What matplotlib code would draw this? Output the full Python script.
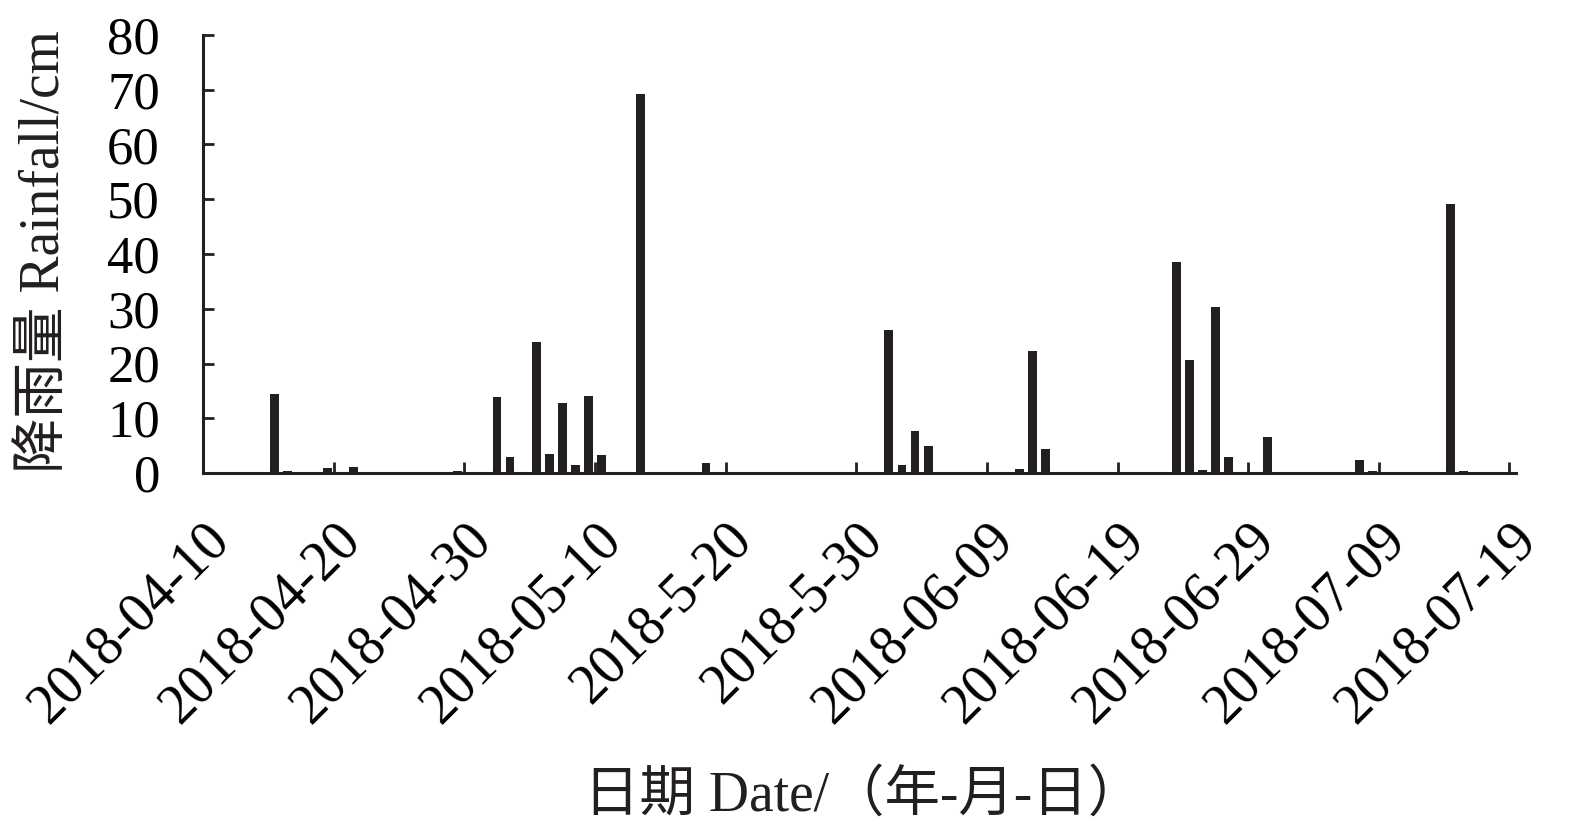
import pandas as pd
import matplotlib
matplotlib.use('Agg')
import matplotlib.pyplot as plt
from matplotlib.transforms import ScaledTranslation

# 降雨日期と降雨量
rain_dates = ['2018-04-15', '2018-04-16', '2018-04-19', '2018-04-20', '2018-04-21',
              '2018-04-29', '2018-05-02', '2018-05-03', '2018-05-05', '2018-05-06',
              '2018-05-07', '2018-05-08', '2018-05-09', '2018-05-10', '2018-05-13',
              '2018-05-18', '2018-06-01', '2018-06-02', '2018-06-03', '2018-06-04',
              '2018-06-11', '2018-06-12', '2018-06-13', '2018-06-23', '2018-06-24',
              '2018-06-25', '2018-06-26', '2018-06-27', '2018-06-30', '2018-07-07',
              '2018-07-08', '2018-07-14', '2018-07-15']
rainfall = [14.4, 0.3, 0.9, 0.2, 1.1,
            0.4, 13.9, 2.9, 24.0, 3.4,
            12.7, 1.5, 14.1, 3.3, 69.2,
            1.8, 26.1, 1.4, 7.7, 4.9,
            0.7, 22.3, 4.3, 38.6, 20.6,
            0.5, 30.3, 2.9, 6.5, 2.4,
            0.3, 49.2, 0.4]

start_date = '2018-04-10'
tick_labels = ['2018-04-10', '2018-04-20', '2018-04-30', '2018-05-10', '2018-5-20',
               '2018-5-30', '2018-06-09', '2018-06-19', '2018-06-29', '2018-07-09',
               '2018-07-19']
y_ticks = [0, 10, 20, 30, 40, 50, 60, 70, 80]

plt.rcParams['font.family'] = ['Liberation Serif', 'Noto Sans CJK SC']
ink = '#231f20'

days = (pd.to_datetime(rain_dates) - pd.Timestamp(start_date)).days
tick_days = [10 * i for i in range(len(tick_labels))]

fig = plt.figure(figsize=(15.75, 8.35), dpi=100)
ax = fig.add_axes([203 / 1575, 1 - 473 / 835, 1313 / 1575, 438 / 835])

# 日の中央に棒を描く
ax.bar(days + 0.5, rainfall, width=0.68, color=ink, edgecolor='none')

ax.set_xlim(0, 100)
ax.set_ylim(0, 80)
ax.set_yticks(y_ticks)
ax.set_yticklabels([str(v) for v in y_ticks])

# 目盛り線は日の境界、ラベルは日の中央（Excel風）
ax.set_xticks(tick_days)
ax.set_xticklabels([])
ax.set_xticks([d + 0.5 for d in tick_days], minor=True)
ax.set_xticklabels(tick_labels, minor=True)
ax.tick_params(axis='x', which='major', direction='in', length=8, width=2, color=ink)
ax.tick_params(axis='x', which='minor', length=0, pad=42, labelsize=40)
ax.tick_params(axis='y', direction='in', length=8, width=2, color=ink, pad=31, labelsize=38)
shift = ScaledTranslation(0.12, 0, fig.dpi_scale_trans)
for lab in ax.get_xticklabels(minor=True):
    lab.set_rotation(45)
    lab.set_ha('right')
    lab.set_va('center')
    lab.set_rotation_mode('anchor')
    lab.set_transform(lab.get_transform() + shift)

for side in ['top', 'right']:
    ax.spines[side].set_visible(False)
for side in ['left', 'bottom']:
    ax.spines[side].set_linewidth(2.2)
    ax.spines[side].set_color(ink)

fig.text(45 / 1575, 1 - 252 / 835, '降雨量 Rainfall/cm', rotation=90,
         ha='center', va='center', fontsize=40, color=ink)
fig.text(864 / 1575, 1 - 796 / 835, '日期 Date/（年-月-日）',
         ha='center', va='center', fontsize=40, color=ink)

fig.savefig('out.png', dpi=100)
